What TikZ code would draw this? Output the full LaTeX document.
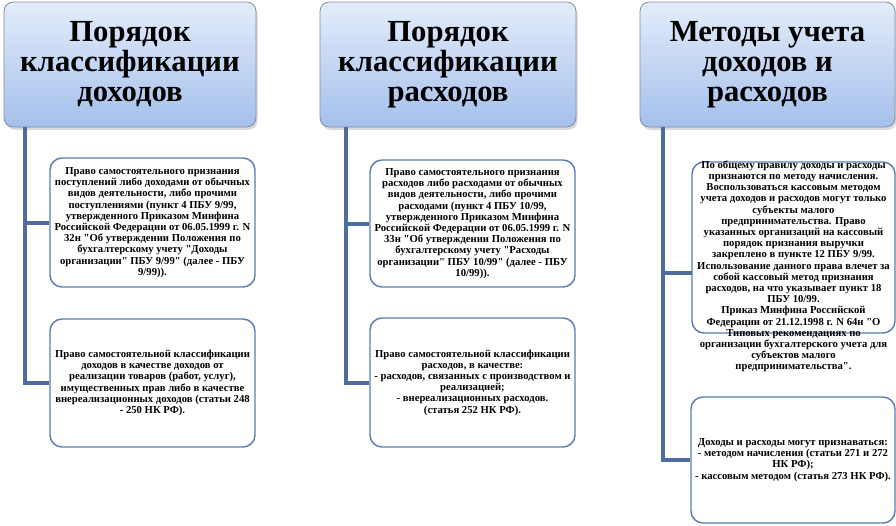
\documentclass[tikz,border=0pt]{standalone}
\usepackage{fontspec}
\setmainfont{Liberation Serif}
\newfontfamily\srf{Liberation Serif}
\usetikzlibrary{shadows}
\definecolor{conncol}{HTML}{4E6C9E}
\definecolor{boxcol}{HTML}{5B7DB1}
\definecolor{hdrtop}{HTML}{E3ECFA}
\definecolor{hdrbot}{HTML}{A5C0EC}
\definecolor{hdrline}{HTML}{7E8CA3}
\tikzset{
  hdr/.style={draw=hdrline, line width=0.6pt, rounded corners=7pt,
    top color=hdrtop, bottom color=hdrbot, shading angle=0,
    drop shadow={shadow xshift=1.2pt, shadow yshift=-2.2pt, opacity=0.3},
    align=center, font=\srf\fontsize{23}{22.5}\selectfont\bfseries, inner sep=0pt},
  infobox/.style={draw=boxcol, line width=1.1pt, rounded corners=9pt, fill=white, inner sep=0pt},
  infotext/.style={align=center, font=\srf\fontsize{8}{8.4}\selectfont\bfseries, inner sep=0pt},
  conn/.style={draw=conncol, line width=3pt}
}
\begin{document}
\begin{tikzpicture}[x=0.75pt,y=-0.75pt]
\useasboundingbox (0,0) rectangle (896,525);
% headers
\node[hdr, minimum width=189pt, minimum height=93.75pt] (h1) at (130,64.5)
  {Порядок\\классификации\\доходов};
\node[hdr, minimum width=192pt, minimum height=93.75pt] (h2) at (448,64.5)
  {Порядок\\классификации\\расходов};
\node[hdr, minimum width=191.25pt, minimum height=93.75pt] (h3) at (767.5,64.5)
  {Методы учета\\доходов и\\расходов};
% boxes
\node[infobox, minimum width=153.75pt, minimum height=96.75pt] (b11) at (152.5,222.5) {};
\node[infobox, minimum width=153.75pt, minimum height=96pt] (b12) at (152.5,383) {};
\node[infobox, minimum width=153.75pt, minimum height=95.25pt] (b21) at (472.5,223.5) {};
\node[infobox, minimum width=153.75pt, minimum height=96.75pt] (b22) at (472.5,382.5) {};
\node[infobox, minimum width=152.25pt, minimum height=128.25pt] (b31) at (793.5,247.5) {};
\node[infobox, minimum width=153pt, minimum height=94.5pt] (b32) at (793,460) {};
% connectors
\coordinate (v1) at (25,127);
\coordinate (v2) at (346,127);
\coordinate (v3) at (663,127);
\coordinate (j31) at (692,273);
\draw[conn] (v1) |- (b12.west);
\draw[conn] (v1 |- b11.west) -- (b11.west);
\draw[conn] (v2) |- (b22.west);
\draw[conn] (v2 |- b21.west) -- (b21.west);
\draw[conn] (v3) |- (b32.west);
\draw[conn] (v3 |- j31) -- (j31);
% texts
\node[infotext] (t11) at (b11.center) {Право самостоятельного признания\\поступлений либо доходами от обычных\\видов деятельности, либо прочими\\поступлениями (пункт 4 ПБУ 9/99,\\утвержденного Приказом Минфина\\Российской Федерации от 06.05.1999 г. N\\32н "Об утверждении Положения по\\бухгалтерскому учету "Доходы\\организации" ПБУ 9/99" (далее - ПБУ\\9/99)).};
\node[infotext] (t12) at (b12.center) {Право самостоятельной классификации\\доходов в качестве доходов от\\реализации товаров (работ, услуг),\\имущественных прав либо в качестве\\внереализационных доходов (статьи 248\\- 250 НК РФ).};
\node[infotext] (t21) at (b21.center) {Право самостоятельного признания\\расходов либо расходами от обычных\\видов деятельности, либо прочими\\расходами (пункт 4 ПБУ 10/99,\\утвержденного Приказом Минфина\\Российской Федерации от 06.05.1999 г. N\\33н "Об утверждении Положения по\\бухгалтерскому учету "Расходы\\организации" ПБУ 10/99" (далее - ПБУ\\10/99)).};
\node[infotext] (t22) at (b22.center) {Право самостоятельной классификации\\расходов, в качестве:\\- расходов, связанных с производством и\\реализацией;\\- внереализационных расходов.\\(статья 252 НК РФ).};
\node[infotext] (t31) at (793.5,266.5) {По общему правилу доходы и расходы\\признаются по методу начисления.\\Воспользоваться кассовым методом\\учета доходов и расходов могут только\\субъекты малого\\предпринимательства. Право\\указанных организаций на кассовый\\порядок признания выручки\\закреплено в пункте 12 ПБУ 9/99.\\Использование данного права влечет за\\собой кассовый метод признания\\расходов, на что указывает пункт 18\\ПБУ 10/99.\\Приказ Минфина Российской\\Федерации от 21.12.1998 г. N 64н "О\\Типовых рекомендациях по\\организации бухгалтерского учета для\\субъектов малого\\предпринимательства".};
\node[infotext] (t32) at (b32.center) {Доходы и расходы могут признаваться:\\- методом начисления (статьи 271 и 272\\НК РФ);\\- кассовым методом (статья 273 НК РФ).};
\end{tikzpicture}
\end{document}
